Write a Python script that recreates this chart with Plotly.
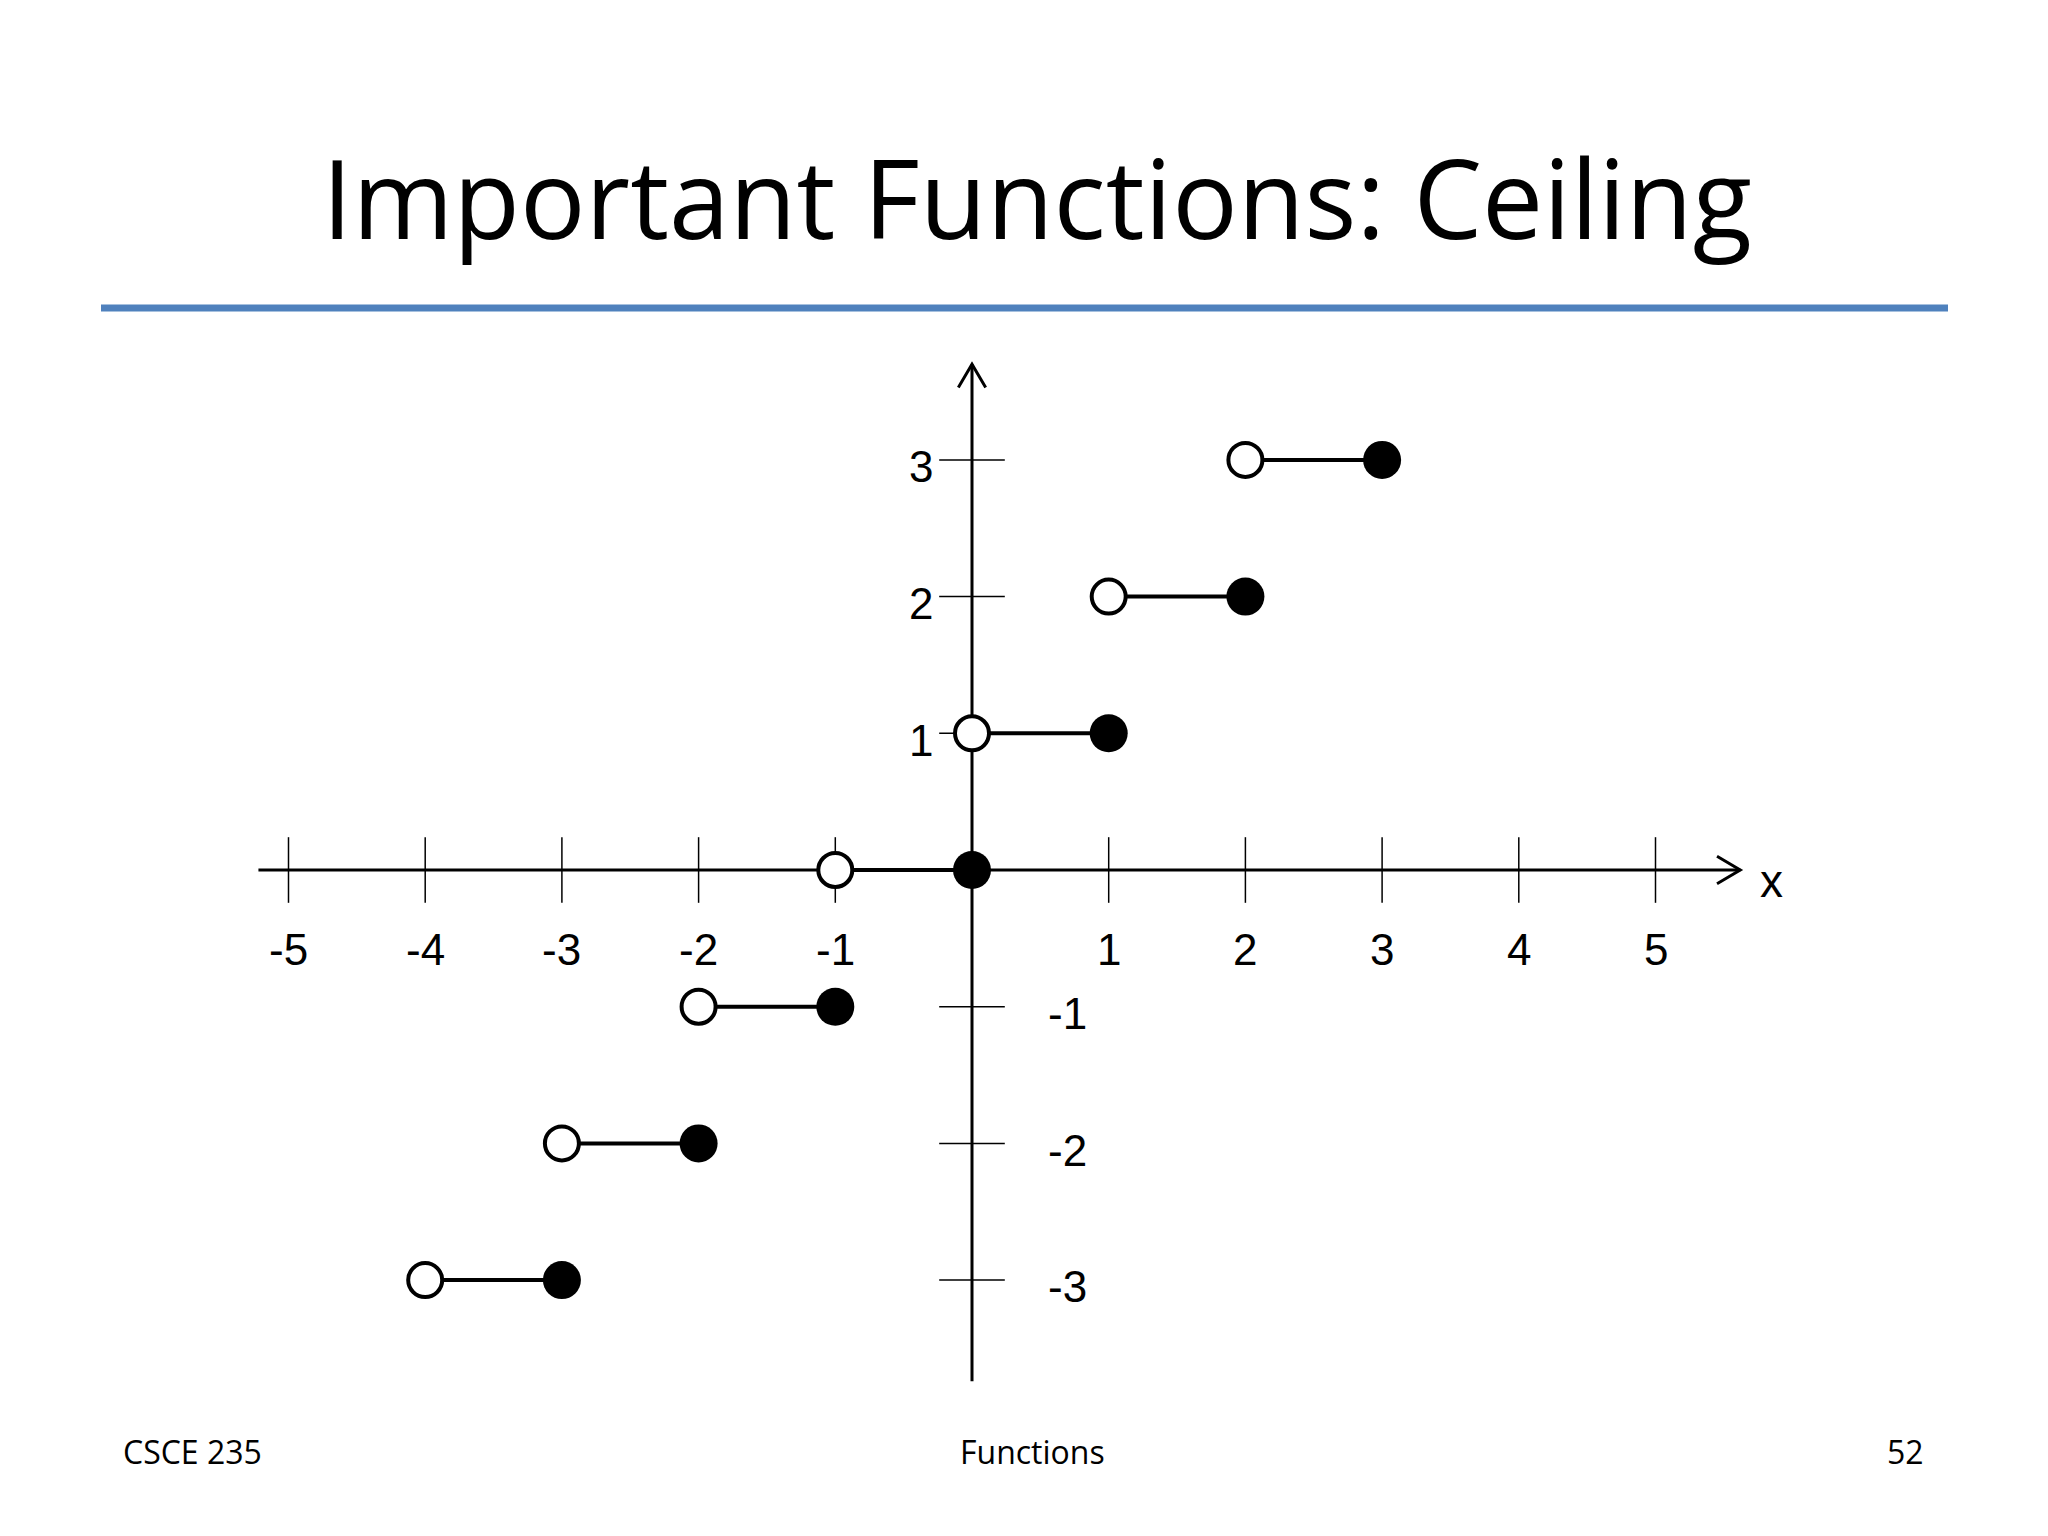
import plotly.graph_objects as go

step_values = [-3, -2, -1, 0, 1, 2, 3]
x_ticks = [-5, -4, -3, -2, -1, 1, 2, 3, 4, 5]
y_ticks = [-3, -2, -1, 1, 2, 3]
title = "Important Functions: Ceiling"
footer = ["CSCE 235", "Functions", "52"]

W, H = 2048, 1536
X0, Y0, U = 964, 862, 136.7
xr = [(0 - X0) / U, (W - X0) / U]
yr = [(Y0 - H) / U, (Y0 - 0) / U]

fig = go.Figure()
fig.add_trace(go.Scatter(x=[-5.22, 5.62], y=[0, 0], mode="lines", line=dict(color="black", width=3), hoverinfo="skip"))
fig.add_trace(go.Scatter(x=[0, 0], y=[-3.74, 3.70], mode="lines", line=dict(color="black", width=3), hoverinfo="skip"))
fig.add_trace(go.Scatter(x=[5.45, 5.62, 5.45], y=[0.1, 0, -0.1], mode="lines", line=dict(color="black", width=3), hoverinfo="skip"))
fig.add_trace(go.Scatter(x=[-0.1, 0, 0.1], y=[3.53, 3.70, 3.53], mode="lines", line=dict(color="black", width=3), hoverinfo="skip"))
for t in x_ticks:
    fig.add_trace(go.Scatter(x=[t, t], y=[-0.24, 0.24], mode="lines", line=dict(color="black", width=1.5), hoverinfo="skip"))
    fig.add_annotation(x=t, y=-0.58, text=str(t), showarrow=False, font=dict(size=44, family="Liberation Sans", color="black"))
for t in y_ticks:
    fig.add_trace(go.Scatter(x=[-0.24, 0.24], y=[t, t], mode="lines", line=dict(color="black", width=1.5), hoverinfo="skip"))
    fig.add_annotation(x=(-0.37 if t > 0 else 0.7), y=t - 0.05, text=str(t), showarrow=False, font=dict(size=44, family="Liberation Sans", color="black"))
fig.add_annotation(x=5.85, y=-0.08, text="x", showarrow=False, font=dict(size=46, family="Liberation Sans", color="black"))
for n in step_values:
    fig.add_trace(go.Scatter(x=[n - 1, n], y=[n, n], mode="lines", line=dict(color="black", width=4), hoverinfo="skip"))
fig.add_trace(go.Scatter(x=[n - 1 for n in step_values], y=step_values, mode="markers",
                         marker=dict(size=34, color="white", line=dict(color="black", width=4))))
fig.add_trace(go.Scatter(x=step_values, y=step_values, mode="markers",
                         marker=dict(size=38, color="black")))

fig.add_annotation(xref="paper", yref="paper", x=1029 / W, y=1 - 112 / H, text=title, showarrow=False,
                   font=dict(size=109, family="Open Sans", color="black"))
fig.add_shape(type="line", xref="paper", yref="paper", x0=93 / W, x1=1940 / W, y0=1 - 300 / H, y1=1 - 300 / H,
              line=dict(color="#4F81BD", width=7))
fig.add_annotation(xref="paper", yref="paper", x=113 / W, y=1 - 1467 / H, xanchor="left", text=footer[0], showarrow=False,
                   font=dict(size=32, family="Open Sans", color="black"))
fig.add_annotation(xref="paper", yref="paper", x=1024 / W, y=1 - 1467 / H, text=footer[1], showarrow=False,
                   font=dict(size=32, family="Open Sans", color="black"))
fig.add_annotation(xref="paper", yref="paper", x=1918 / W, y=1 - 1467 / H, xanchor="right", text=footer[2], showarrow=False,
                   font=dict(size=32, family="Open Sans", color="black"))

fig.update_layout(width=W, height=H, margin=dict(l=0, r=0, t=0, b=0), showlegend=False,
                  plot_bgcolor="white", paper_bgcolor="white",
                  xaxis=dict(range=xr, visible=False, fixedrange=True),
                  yaxis=dict(range=yr, visible=False, fixedrange=True))
fig.write_html("out.html", config={"displayModeBar": False})
